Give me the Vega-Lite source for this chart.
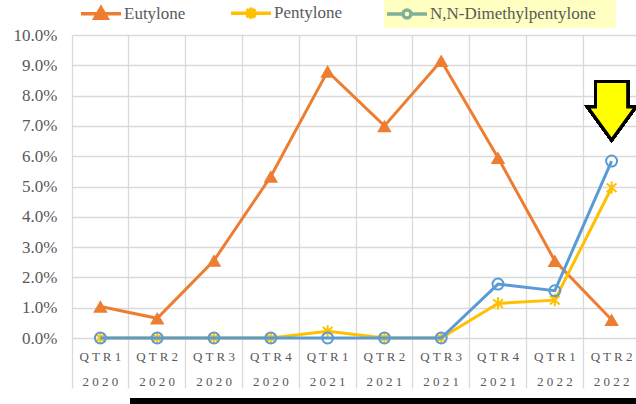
{
  "$schema": "https://vega.github.io/schema/vega-lite/v6.json",
  "autosize": "none",
  "width": 568,
  "height": 303,
  "padding": {"left": 72, "top": 35, "right": -4, "bottom": 66},
  "background": "white",
  "config": {
    "view": {"stroke": null},
    "legend": {
      "orient": "none", "legendX": 7, "legendY": -44, "direction": "horizontal",
      "title": null, "padding": 0, "symbolSize": 1600, "symbolStrokeWidth": 3.5,
      "labelFont": "Liberation Serif", "labelFontSize": 17, "labelColor": "#595959",
      "columnPadding": 38, "labelOffset": 1, "symbolOpacity": 1, "labelLimit": 400
    }
  },
  "resolve": {"axis": {"x": "independent"}},
  "datasets": {
    "rates": [
      {"q": "QTR1 2020", "series": "Eutylone", "v": 0.0104},
      {"q": "QTR2 2020", "series": "Eutylone", "v": 0.0065},
      {"q": "QTR3 2020", "series": "Eutylone", "v": 0.0256},
      {"q": "QTR4 2020", "series": "Eutylone", "v": 0.0533},
      {"q": "QTR1 2021", "series": "Eutylone", "v": 0.0880},
      {"q": "QTR2 2021", "series": "Eutylone", "v": 0.0700},
      {"q": "QTR3 2021", "series": "Eutylone", "v": 0.0915},
      {"q": "QTR4 2021", "series": "Eutylone", "v": 0.0595},
      {"q": "QTR1 2022", "series": "Eutylone", "v": 0.0255},
      {"q": "QTR2 2022", "series": "Eutylone", "v": 0.0060},
      {"q": "QTR1 2020", "series": "Pentylone", "v": 0},
      {"q": "QTR2 2020", "series": "Pentylone", "v": 0},
      {"q": "QTR3 2020", "series": "Pentylone", "v": 0},
      {"q": "QTR4 2020", "series": "Pentylone", "v": 0},
      {"q": "QTR1 2021", "series": "Pentylone", "v": 0.0022},
      {"q": "QTR2 2021", "series": "Pentylone", "v": 0},
      {"q": "QTR3 2021", "series": "Pentylone", "v": 0},
      {"q": "QTR4 2021", "series": "Pentylone", "v": 0.0114},
      {"q": "QTR1 2022", "series": "Pentylone", "v": 0.0125},
      {"q": "QTR2 2022", "series": "Pentylone", "v": 0.0496},
      {"q": "QTR1 2020", "series": "N,N-Dimethylpentylone", "v": 0},
      {"q": "QTR2 2020", "series": "N,N-Dimethylpentylone", "v": 0},
      {"q": "QTR3 2020", "series": "N,N-Dimethylpentylone", "v": 0},
      {"q": "QTR4 2020", "series": "N,N-Dimethylpentylone", "v": 0},
      {"q": "QTR1 2021", "series": "N,N-Dimethylpentylone", "v": 0},
      {"q": "QTR2 2021", "series": "N,N-Dimethylpentylone", "v": 0},
      {"q": "QTR3 2021", "series": "N,N-Dimethylpentylone", "v": 0},
      {"q": "QTR4 2021", "series": "N,N-Dimethylpentylone", "v": 0.0178},
      {"q": "QTR1 2022", "series": "N,N-Dimethylpentylone", "v": 0.0156},
      {"q": "QTR2 2022", "series": "N,N-Dimethylpentylone", "v": 0.0584}
    ]
  },
  "data": {"name": "rates"},
  "encoding": {
    "x": {
      "field": "q", "type": "ordinal",
      "scale": {"type": "band", "paddingInner": 0, "paddingOuter": 0,
        "domain": ["QTR1 2020","QTR2 2020","QTR3 2020","QTR4 2020","QTR1 2021","QTR2 2021","QTR3 2021","QTR4 2021","QTR1 2022","QTR2 2022"]},
      "axis": null
    },
    "y": {
      "field": "v", "type": "quantitative",
      "scale": {"domain": [0, 0.1], "nice": false, "zero": false},
      "axis": {
        "title": null, "values": [0,0.01,0.02,0.03,0.04,0.05,0.06,0.07,0.08,0.09,0.1],
        "format": ".1%", "grid": true, "gridColor": "#D9D9D9", "gridWidth": 1.3,
        "domain": false, "ticks": false, "labelPadding": 15,
        "labelFont": "Liberation Serif", "labelFontSize": 17, "labelColor": "#595959"
      }
    }
  },
  "layer": [
    {
      "mark": {"type": "rect", "color": "#FFFFC2", "x2Offset": 4},
      "encoding": {
        "x": {"datum": "QTR2 2021", "type": "ordinal", "bandPosition": 0.5, "axis": null},
        "x2": {"datum": "QTR2 2022", "bandPosition": 0.5},
        "y": {"datum": 0.1116, "type": "quantitative"},
        "y2": {"datum": 0.1023}
      }
    },
    {
      "mark": {"type": "rule", "color": "black", "strokeWidth": 8},
      "encoding": {
        "x": {"datum": "QTR2 2020", "type": "ordinal", "bandPosition": 0.03, "axis": null},
        "x2": {"datum": "QTR2 2022", "bandPosition": 1},
        "y": {"datum": -0.0211, "type": "quantitative"}
      }
    },
    {
      "transform": [{"filter": "datum.series === 'Eutylone'"}],
      "mark": {"type": "line", "color": "#ED7D31", "strokeWidth": 3,
        "point": {"shape": "triangle-up", "size": 210, "filled": true, "fill": "#ED7D31", "strokeWidth": 0, "opacity": 1}},
      "encoding": {
        "x": {"field": "q", "type": "ordinal",
          "axis": {
            "orient": "bottom", "title": null, "bandPosition": 0, "grid": true, "gridColor": "#D9D9D9", "gridWidth": 1.3,
            "domain": false, "ticks": true, "tickColor": "#D9D9D9", "tickWidth": 1.3, "tickSize": 50,
            "labels": false
          }}
      }
    },
    {
      "transform": [{"filter": "datum.series === 'Pentylone'"}],
      "mark": {"type": "line", "color": "#FFC000", "strokeWidth": 3,
        "point": {"shape": "M0,-1V1M-0.8,-0.7L0.8,0.7M-0.8,0.7L0.8,-0.7", "size": 150, "filled": false, "stroke": "#FFC000", "strokeWidth": 2, "opacity": 1}},
      "encoding": {
        "x": {"field": "q", "type": "ordinal",
          "axis": {
            "orient": "bottom", "title": null, "grid": false, "domain": false, "ticks": false,
            "labelPadding": 12, "labelAngle": 0,
            "labelFont": "Liberation Serif", "labelFontSize": 13, "labelColor": "#595959",
            "labelLineHeight": 25, "labelFlush": false, "labelOverlap": false, "labelBound": false,
            "labelExpr": "[join(split(split(datum.value, ' ')[0], ''), ' '), join(split(split(datum.value, ' ')[1], ''), ' ')]"
          }}
      }
    },
    {
      "transform": [{"filter": "datum.series === 'N,N-Dimethylpentylone'"}],
      "mark": {"type": "line", "color": "#5B9BD5", "strokeWidth": 3,
        "point": {"shape": "circle", "size": 121, "filled": false, "stroke": "#5B9BD5", "strokeWidth": 2, "opacity": 1}}
    },
    {
      "mark": {"type": "point", "shape": "M-0.55,-1L0.55,-1L0.55,-0.13L0.82,-0.13L0,1L-0.82,-0.13L-0.55,-0.13Z",
        "size": 3422, "filled": true, "fill": "#FFFF00", "stroke": "black", "strokeWidth": 3, "strokeJoin": "miter", "opacity": 1},
      "encoding": {
        "x": {"datum": "QTR2 2022", "type": "ordinal", "axis": null},
        "y": {"datum": 0.075, "type": "quantitative"}
      }
    },
    {
      "transform": [{"filter": "false"}],
      "mark": {"type": "point", "opacity": 1, "strokeWidth": 3.5},
      "encoding": {
        "shape": {"field": "series", "type": "nominal",
          "scale": {"domain": ["Eutylone", "Pentylone", "N,N-Dimethylpentylone"],
            "range": [
              "M-1,0H1M0,-0.3L0.3,0.22H-0.3Z",
              "M-1,0H1M0,-0.28V0.28M-0.22,-0.2L0.22,0.2M-0.22,0.2L0.22,-0.2",
              "M-1,0H-0.2M0.2,0H1M-0.2,0A0.2,0.2 0 1,0 0.2,0A0.2,0.2 0 1,0 -0.2,0"
            ]}},
        "stroke": {"field": "series", "type": "nominal",
          "scale": {"domain": ["Eutylone", "Pentylone", "N,N-Dimethylpentylone"],
            "range": ["#ED7D31", "#FFC000", "#7FB09A"]}},
        "fill": {"field": "series", "type": "nominal",
          "scale": {"domain": ["Eutylone", "Pentylone", "N,N-Dimethylpentylone"],
            "range": ["#ED7D31", "transparent", "transparent"]}}
      }
    }
  ]
}
